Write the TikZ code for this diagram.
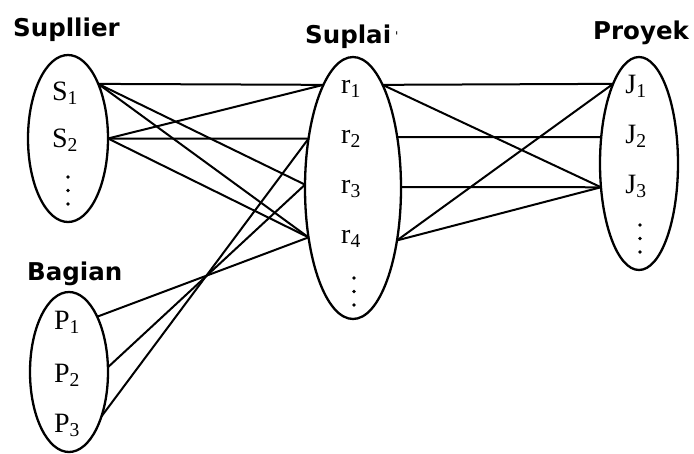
\documentclass[tikz,border=0pt]{standalone}
\usepackage{fontspec}
\setmainfont{Liberation Serif}
\newfontfamily\headfont{DejaVu Sans}
\usepackage{tikz}
\usetikzlibrary{shapes.geometric, positioning}

\begin{document}
\begin{tikzpicture}[x=1pt, y=-1pt,
    set/.style={draw, ellipse, line width=2.3pt, inner sep=0pt, outer sep=0pt},
    elem/.style={anchor=base, font=\fontsize{28}{32}\selectfont, inner sep=0pt},
    head/.style={anchor=base west, font=\headfont\bfseries\fontsize{24.5}{28}\selectfont, inner sep=0pt},
    link/.style={line width=2pt}]
  \useasboundingbox (0,0) rectangle (694,453);

  % the four sets
  \node[set, minimum width=80pt, minimum height=167pt] (S) at (68,138.5) {};
  \node[set, minimum width=78pt, minimum height=160pt] (P) at (69,372) {};
  \node[set, minimum width=96pt, minimum height=262pt] (R) at (353,188) {};
  \node[set, minimum width=78pt, minimum height=213pt] (J) at (639,163.5) {};

  % headings
  \node[head] (hS) at (13,36) {Supllier};
  \node[head] (hR) at (305,43) {Suplai\,\raisebox{3pt}{\fontsize{12}{12}\selectfont\mdseries '}};
  \node[head] (hJ) at (593,39) {Proyek};
  \node[head] (hP) at (27,280) {Bagian};

  % elements
  \node[elem] (s1) at (65,100) {S\textsubscript{1}};
  \node[elem] (s2) at (65,147) {S\textsubscript{2}};
  \node[elem] (p1) at (67,329) {P\textsubscript{1}};
  \node[elem] (p2) at (67,382) {P\textsubscript{2}};
  \node[elem] (p3) at (67,432) {P\textsubscript{3}};
  \foreach \i/\y in {1/93, 2/143, 3/193, 4/243}
    \node[elem] (r\i) at (351,\y) {r\textsubscript{\i}};
  \foreach \i/\y in {1/93, 2/143, 3/193}
    \node[elem] (j\i) at (636,\y) {J\textsubscript{\i}};

  % vertical dots
  \foreach \x/\y in {68/177, 354/278, 640/225}
    \foreach \k in {0,1,2}
      \fill (\x,\y+13.5*\k) circle (1.9pt);

  % supplier and part to supply
  \foreach \a/\b in {S.61/R.106, S.61/R.176, S.61/R.-132,
                     S.0/R.106, S.0/R.132, S.0/R.-132,
                     P.63/R.-132, P.7/R.176, P.-54/R.132}
    \draw[link] (\a) -- (\b);

  % supply to project
  \foreach \a/\b in {R.74/J.108, R.74/J.-148, R.49/J.145,
                     R.1/J.-148, R.-50/J.108, R.-50/J.-148}
    \draw[link] (\a) -- (\b);
\end{tikzpicture}
\end{document}
